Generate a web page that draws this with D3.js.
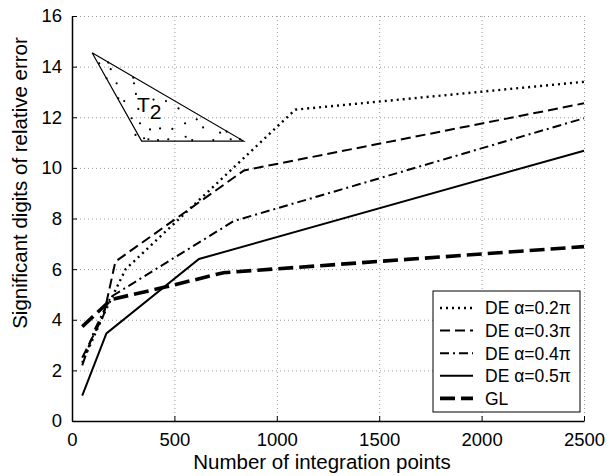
<!DOCTYPE html>
<html>
<head>
<meta charset="utf-8">
<script src="https://cdn.jsdelivr.net/npm/d3@7"></script>
<style>
body { margin: 0; background: #fff; }
text { font-family: "Liberation Sans", Arial, Helvetica, sans-serif; }
</style>
</head>
<body>
<svg id="chart" width="615" height="476"></svg>
<script>
// chart values
const xTicks = [0, 500, 1000, 1500, 2000, 2500];
const yTicks = [0, 2, 4, 6, 8, 10, 12, 14, 16];
const seriesNames = ["DE \u03b1=0.2\u03c0", "DE \u03b1=0.3\u03c0", "DE \u03b1=0.4\u03c0", "DE \u03b1=0.5\u03c0", "GL"];

const de02 = [[50, 2.3], [160, 4.3], [262, 6.0], [1090, 12.3], [2500, 13.4]];
const de03 = [[50, 2.5], [155, 4.2], [212, 6.3], [840, 9.9], [2500, 12.55]];
const de04 = [[50, 2.2], [110, 3.6], [189, 4.9], [790, 7.9], [2500, 11.96]];
const de05 = [[50, 1.0], [168, 3.46], [620, 6.4], [2500, 10.68]];
const gl   = [[50, 3.73], [192, 4.8], [460, 5.3], [740, 5.86], [2500, 6.89]];

// inset triangle T2 and its quadrature points (in chart units)
const triangle = [[98, 14.55], [340, 11.06], [838, 11.06], [98, 14.55]];
const triPoints = [
  [133, 14.13], [177, 14.16], [169, 13.54], [189, 13.9], [218, 13.34], [226, 12.75],
  [255, 12.64], [291, 11.96], [299, 13.56], [303, 13.34], [312, 12.92], [324, 12.33],
  [332, 11.76], [352, 11.17], [373, 11.13], [381, 11.52], [430, 11.56], [459, 12.64],
  [470, 11.13], [490, 11.54], [552, 11.76], [555, 11.23], [587, 11.1], [609, 11.92],
  [690, 11.1], [723, 11.39], [755, 11.43], [775, 11.13], [820, 11.13], [398, 12.7],
  [520, 12.35], [640, 11.6], [420, 11.1], [310, 11.3]
];

const svg = d3.select("#chart");
const margin = {left: 72, right: 31, top: 16, bottom: 55};
const width = 615, height = 476;

const x = d3.scaleLinear().domain([0, 2500]).range([margin.left, width - margin.right]);
const y = d3.scaleLinear().domain([0, 16]).range([height - margin.bottom, margin.top]);

svg.append("rect").attr("width", width).attr("height", height).attr("fill", "#fff");

// grid
const grid = svg.append("g").attr("stroke", "#9a9a9a").attr("stroke-width", 1)
    .attr("stroke-dasharray", "1,3");
grid.selectAll("line.v").data(xTicks.slice(1)).join("line")
    .attr("x1", d => x(d) + 0.5).attr("x2", d => x(d) + 0.5)
    .attr("y1", y(0)).attr("y2", y(16));
grid.selectAll("line.h").data(yTicks.slice(1)).join("line")
    .attr("class", "h")
    .attr("x1", x(0)).attr("x2", x(2500))
    .attr("y1", d => y(d) + 0.5).attr("y2", d => y(d) + 0.5);

// axes (ticks pointing inward)
const xAxis = svg.append("g").attr("transform", `translate(0,${y(0)})`)
    .call(d3.axisBottom(x).tickValues(xTicks).tickFormat(d3.format("d"))
        .tickSizeInner(-5).tickSizeOuter(0).tickPadding(12));
const yAxis = svg.append("g").attr("transform", `translate(${x(0)},0)`)
    .call(d3.axisLeft(y).tickValues(yTicks).tickFormat(d3.format("d"))
        .tickSizeInner(-5).tickSizeOuter(0).tickPadding(10));
[xAxis, yAxis].forEach(a => {
    a.select(".domain").attr("stroke", "#000").attr("stroke-width", 1.5);
    a.selectAll(".tick line").attr("stroke", "#000").attr("stroke-width", 1);
    a.selectAll(".tick text").attr("font-size", 18.5).attr("fill", "#000")
        .attr("font-family", "'Liberation Sans', Arial, sans-serif");
});

svg.append("text").attr("x", 322).attr("y", 469).attr("text-anchor", "middle")
    .attr("font-size", 20.5).text("Number of integration points");
svg.append("text").attr("transform", "translate(27,183) rotate(-90)")
    .attr("text-anchor", "middle").attr("font-size", 20.5)
    .text("Significant digits of relative error");

// series
const styles = [
    {data: de02, dash: "2,4", w: 2.4},
    {data: de03, dash: "10,5", w: 2},
    {data: de04, dash: "9,4,2,4", w: 2},
    {data: de05, dash: null, w: 2},
    {data: gl,   dash: "15,6", w: 3.6}
];
const line = d3.line().x(d => x(d[0])).y(d => y(d[1]));
svg.append("g").attr("fill", "none").attr("stroke", "#000")
  .selectAll("path").data(styles).join("path")
    .attr("d", d => line(d.data))
    .attr("stroke-width", d => d.w)
    .attr("stroke-dasharray", d => d.dash);

// inset triangle
svg.append("path").attr("d", line(triangle)).attr("fill", "none")
    .attr("stroke", "#000").attr("stroke-width", 1.2);
svg.append("g").selectAll("circle").data(triPoints).join("circle")
    .attr("cx", d => x(d[0])).attr("cy", d => y(d[1])).attr("r", 1.1).attr("fill", "#000");
const tLabel = svg.append("text").attr("x", 137).attr("y", 112).attr("font-size", 21);
tLabel.append("tspan").text("T");
tLabel.append("tspan").attr("dy", 7).attr("font-size", 21).text("2");

// legend
const lg = svg.append("g").attr("transform", "translate(433,291)");
lg.append("rect").attr("width", 147).attr("height", 121)
    .attr("fill", "#fff").attr("stroke", "#000").attr("stroke-width", 1);
const rows = lg.selectAll("g").data(styles).join("g")
    .attr("transform", (d, i) => `translate(0,${17 + i * 22.6})`);
rows.append("line").attr("x1", 7).attr("x2", 40).attr("stroke", "#000")
    .attr("stroke-width", d => d.w).attr("stroke-dasharray", d => d.dash);
rows.append("text").attr("x", 52).attr("dy", "0.36em").attr("font-size", 17.5)
    .text((d, i) => seriesNames[i]);
</script>
</body>
</html>
